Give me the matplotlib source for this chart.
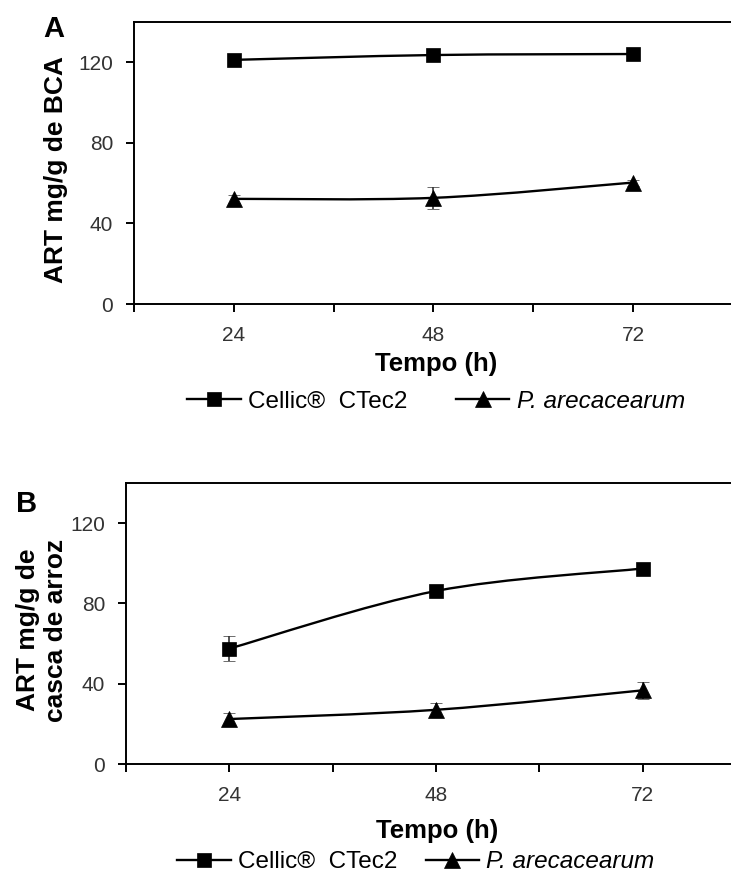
import numpy as np
import matplotlib
matplotlib.use('Agg')
import matplotlib.pyplot as plt
from matplotlib.path import Path
from matplotlib.patches import PathPatch
from matplotlib.lines import Line2D

# dados de hidrólise (ART, mg/g)
tempos = ['24', '48', '72']
cellic_bca = [121.2, 123.6, 124.1]
cellic_bca_err = [1.0, 1.0, 1.0]
parec_bca = [52.2, 52.7, 60.3]
parec_bca_err = [2.0, 5.3, 1.5]
cellic_arroz = [57.5, 86.2, 97.4]
cellic_arroz_err = [6.2, 1.5, 1.5]
parec_arroz = [22.4, 27.0, 36.7]
parec_arroz_err = [3.0, 3.6, 4.2]

plt.rcParams.update({
    'font.family': ['Liberation Sans', 'DejaVu Sans'],
    'axes.linewidth': 1.4,
    'savefig.dpi': 100,
    'figure.dpi': 100,
})


def smooth_path(x, y):
    # curva suavizada (bezier cúbica, estilo Excel)
    n = len(x)
    pts = np.column_stack([x, y]).astype(float)
    verts = [pts[0]]
    codes = [Path.MOVETO]
    for i in range(n - 1):
        p0 = pts[max(i - 1, 0)]
        p1 = pts[i]
        p2 = pts[i + 1]
        p3 = pts[min(i + 2, n - 1)]
        c1 = p1 + (p2 - p0) / 6.0
        c2 = p2 - (p3 - p1) / 6.0
        verts += [c1, c2, p2]
        codes += [Path.CURVE4] * 3
    return Path(verts, codes)


def painel(ax, s1, e1, s2, e2):
    x = np.arange(1, len(tempos) + 1)
    for s, e, m, ms in [(s1, e1, 's', 10.5), (s2, e2, '^', 11.5)]:
        ax.add_patch(PathPatch(smooth_path(x, s), fill=False, lw=1.7, ec='black'))
        ax.errorbar(x, s, yerr=e, fmt=m, color='black', ms=ms, mew=0.5, capsize=4,
                    ecolor='#333333', elinewidth=1.2, capthick=1.2, zorder=3)
    ax.set_xlim(0.5, 3.5)
    ax.set_ylim(0, 140)
    ax.set_yticks([0, 40, 80, 120])
    ax.set_xticks(x)
    ax.set_xticklabels(tempos)
    ax.set_xticks([0.5, 1.5, 2.5, 3.5], minor=True)
    ax.tick_params(axis='both', which='both', direction='out', length=6, width=1.4,
                   labelsize=15, labelcolor='#333333')
    ax.tick_params(axis='y', pad=9)
    ax.tick_params(axis='x', which='major', pad=10)
    return ax


def px(x, y):
    return x / 731, 1 - y / 875


fig = plt.figure(figsize=(7.31, 8.75))
axA = fig.add_axes([134 / 731, 1 - 304 / 875, 599 / 731, 282 / 875])
axB = fig.add_axes([126 / 731, 1 - 764 / 875, 620 / 731, 281 / 875])

painel(axA, cellic_bca, cellic_bca_err, parec_bca, parec_bca_err)
painel(axB, cellic_arroz, cellic_arroz_err, parec_arroz, parec_arroz_err)

fig.text(*px(56, 170), 'ART mg/g de BCA', fontsize=19, fontweight='bold',
         rotation=90, ha='center', va='center')
fig.text(*px(42, 630), 'ART mg/g de\ncasca de arroz', fontsize=19,
         fontweight='bold', rotation=90, ha='center', va='center', linespacing=1.2)
fig.text(*px(54, 29), 'A', fontsize=21, fontweight='bold', ha='center', va='center')
fig.text(*px(27, 504), 'B', fontsize=21, fontweight='bold', ha='center', va='center')
fig.text(*px(436, 364), 'Tempo (h)', fontsize=18.5, fontweight='bold',
         ha='center', va='center')
fig.text(*px(437, 831), 'Tempo (h)', fontsize=18.5, fontweight='bold',
         ha='center', va='center')

handles = [Line2D([], [], color='black', marker='s', ms=10.5, mew=0.5, lw=1.7),
           Line2D([], [], color='black', marker='^', ms=11.5, mew=0.5, lw=1.7)]
labels = ['Cellic®  CTec2', 'P. arecacearum']
for (xc, yc), cs in [((436, 401), 2.0), ((416, 862), 1.15)]:
    leg = fig.legend(handles, labels, loc='center', bbox_to_anchor=px(xc, yc),
                     ncol=2, frameon=False, fontsize=17.5, handlelength=2.2,
                     handletextpad=0.3, columnspacing=cs, numpoints=1,
                     borderaxespad=0, borderpad=0)
    leg.get_texts()[1].set_style('italic')

fig.savefig('out.png')
